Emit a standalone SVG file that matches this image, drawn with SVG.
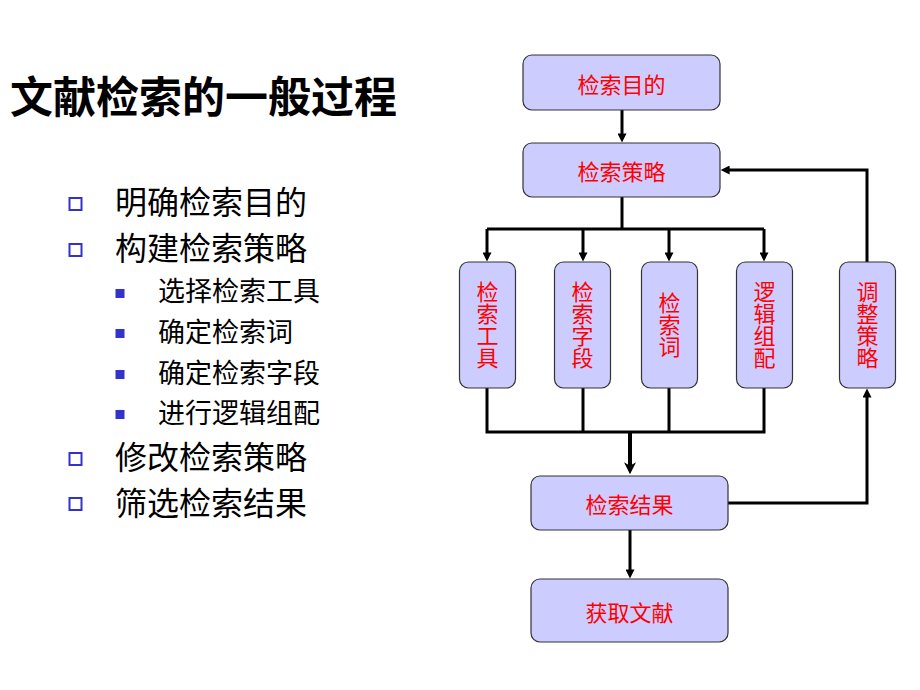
<svg xmlns="http://www.w3.org/2000/svg" width="920" height="690" viewBox="0 0 920 690">
<defs>
<style>
.t{font-family:"Noto Sans CJK SC","Noto Sans",sans-serif;}
.title{font-size:43px;font-weight:bold;fill:#000;}
.l1{font-size:32px;fill:#000;}
.l2{font-size:27px;fill:#000;}
.box{fill:#CCCCFF;stroke:#333;stroke-width:1.2;}
.lbl{font-size:22px;fill:#FF0000;text-anchor:middle;dominant-baseline:central;}
.vl{font-size:22px;fill:#FF0000;text-anchor:middle;writing-mode:vertical-rl;dominant-baseline:central;}
.c{fill:none;stroke:#000;stroke-width:3;}
.hb{fill:none;stroke:#3333CC;stroke-width:2;}
.fb{fill:#3333CC;}
</style>
<marker id="ah" viewBox="0 0 10 10" refX="4" refY="5" markerWidth="10" markerHeight="9" markerUnits="userSpaceOnUse" orient="auto">
<path d="M0,0 L10,5 L0,10 z" fill="#000"/>
</marker>
<marker id="ahn" viewBox="0 0 10 10" refX="4" refY="5" markerWidth="14" markerHeight="12" markerUnits="userSpaceOnUse" orient="auto">
<path d="M0,0 L10,5 L0,10 L3,5 z" fill="#000"/>
</marker>
</defs>
<rect width="920" height="690" fill="#fff"/>

<g id="title">
<text class="t title" x="10" y="94" dominant-baseline="central">文献检索的一般过程</text>
</g>

<g id="outline">
<rect class="hb" x="69.5" y="198" width="12" height="12"/>
<text class="t l1" x="115" y="200" dominant-baseline="central">明确检索目的</text>
<rect class="hb" x="69.5" y="244" width="12" height="12"/>
<text class="t l1" x="115" y="246" dominant-baseline="central">构建检索策略</text>
<rect class="fb" x="115.5" y="289" width="9" height="9"/>
<text class="t l2" x="158" y="289.5" dominant-baseline="central">选择检索工具</text>
<rect class="fb" x="115.5" y="329" width="9" height="9"/>
<text class="t l2" x="158" y="330" dominant-baseline="central">确定检索词</text>
<rect class="fb" x="115.5" y="370" width="9" height="9"/>
<text class="t l2" x="158" y="371" dominant-baseline="central">确定检索字段</text>
<rect class="fb" x="115.5" y="410" width="9" height="9"/>
<text class="t l2" x="158" y="411" dominant-baseline="central">进行逻辑组配</text>
<rect class="hb" x="69.5" y="453" width="12" height="12"/>
<text class="t l1" x="115" y="455" dominant-baseline="central">修改检索策略</text>
<rect class="hb" x="69.5" y="498" width="12" height="12"/>
<text class="t l1" x="115" y="501" dominant-baseline="central">筛选检索结果</text>
</g>

<g id="connectors">
<line class="c" x1="622" y1="110" x2="622" y2="137" marker-end="url(#ah)"/>
<polyline class="c" points="622,197 622,229"/>
<line class="c" x1="487" y1="229" x2="764" y2="229"/>
<line class="c" x1="487" y1="229" x2="487" y2="256" marker-end="url(#ah)"/>
<line class="c" x1="583" y1="229" x2="583" y2="256" marker-end="url(#ah)"/>
<line class="c" x1="669" y1="229" x2="669" y2="256" marker-end="url(#ah)"/>
<line class="c" x1="764" y1="229" x2="764" y2="256" marker-end="url(#ah)"/>
<polyline class="c" points="487,388 487,432 764,432 764,388"/>
<line class="c" x1="583" y1="388" x2="583" y2="432"/>
<line class="c" x1="669" y1="388" x2="669" y2="432"/>
<line class="c" style="stroke-width:4" x1="630" y1="432" x2="630" y2="467" marker-end="url(#ahn)"/>
<line class="c" x1="630" y1="530" x2="630" y2="573" marker-end="url(#ah)"/>
<polyline class="c" points="728,503 867,503 867,394" marker-end="url(#ah)"/>
<polyline class="c" points="867,262 867,170 726,170" marker-end="url(#ah)"/>
</g>

<g id="n-purpose">
<rect class="box" x="523" y="55" width="197" height="55" rx="9"/>
<text class="t lbl" x="621.5" y="82.5">检索目的</text>
</g>
<g id="n-strategy">
<rect class="box" x="523" y="143" width="197" height="54" rx="9"/>
<text class="t lbl" x="621.5" y="170">检索策略</text>
</g>
<g id="n-tool">
<rect class="box" x="459.5" y="262" width="56" height="126" rx="9"/>
<text class="t vl" x="487.5" y="325">检索工具</text>
</g>
<g id="n-field">
<rect class="box" x="554.5" y="262" width="56" height="126" rx="9"/>
<text class="t vl" x="582.5" y="325">检索字段</text>
</g>
<g id="n-term">
<rect class="box" x="641.5" y="262" width="56" height="126" rx="9"/>
<text class="t vl" x="669.5" y="325">检索词</text>
</g>
<g id="n-logic">
<rect class="box" x="736.5" y="262" width="56" height="126" rx="9"/>
<text class="t vl" x="764.5" y="325">逻辑组配</text>
</g>
<g id="n-adjust">
<rect class="box" x="839.5" y="262" width="56" height="126" rx="9"/>
<text class="t vl" x="867.5" y="325">调整策略</text>
</g>
<g id="n-result">
<rect class="box" x="531" y="476" width="197" height="54" rx="9"/>
<text class="t lbl" x="629.5" y="503">检索结果</text>
</g>
<g id="n-obtain">
<rect class="box" x="531" y="579" width="197" height="63" rx="9"/>
<text class="t lbl" x="629.5" y="610.5">获取文献</text>
</g>
</svg>
